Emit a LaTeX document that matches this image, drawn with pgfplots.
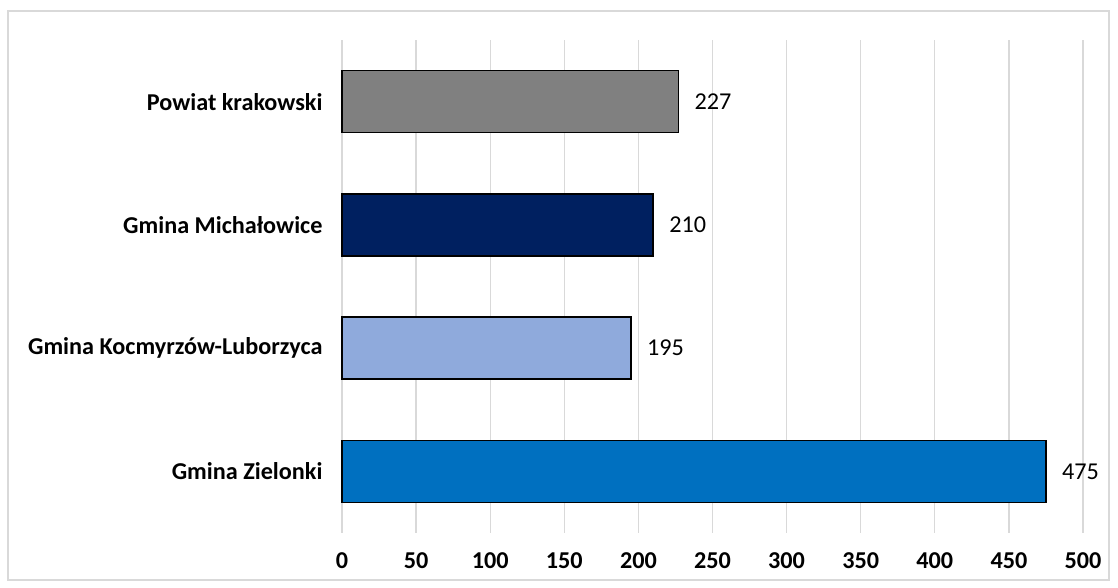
\documentclass[border=0pt]{standalone}
\usepackage{pgfplots}
\pgfplotsset{compat=1.18}
\usepackage{fontspec}
\setmainfont{Carlito}
\definecolor{cgray}{HTML}{808080}
\definecolor{cnavy}{HTML}{002060}
\definecolor{clight}{HTML}{8FAADC}
\definecolor{cblue}{HTML}{0070C0}
\definecolor{gridc}{HTML}{D9D9D9}
\begin{document}
\begin{tikzpicture}[x=1pt,y=1pt]
\fill[white] (0,0) rectangle (1118,588);
\draw[gridc,line width=1.2pt] (8,8) rectangle (1109,577);
\begin{axis}[
  at={(342pt,55pt)}, anchor=south west,
  scale only axis, width=741pt, height=493pt,
  xbar, bar width=62pt,
  xmin=0, xmax=500, ymin=-0.5, ymax=3.5,
  xtick={0,50,...,500},
  ytick={0,1,2,3},
  yticklabels={Gmina Zielonki,Gmina Kocmyrzów-Luborzyca,Gmina Michałowice,Powiat krakowski},
  xmajorgrids, major grid style={gridc,line width=1.3pt},
  axis line style={draw=none},
  major tick length=0pt,
  /pgf/number format/assume math mode=true,
  tick label style={font=\fontsize{24.2}{28}\selectfont\bfseries},
  xticklabel style={yshift=-16pt},
  yticklabel style={xshift=-16pt},
  nodes near coords,
  nodes near coords style={font=\fontsize{24.2}{28}\selectfont, xshift=12pt, text=black},
  every axis plot/.append style={draw=black, line width=1.5pt, bar shift=0pt},
  clip=false,
]
\addplot[fill=cblue] coordinates {(475,0)};
\addplot[fill=clight] coordinates {(195,1)};
\addplot[fill=cnavy] coordinates {(210,2)};
\addplot[fill=cgray] coordinates {(227,3)};
\end{axis}
\end{tikzpicture}
\end{document}
